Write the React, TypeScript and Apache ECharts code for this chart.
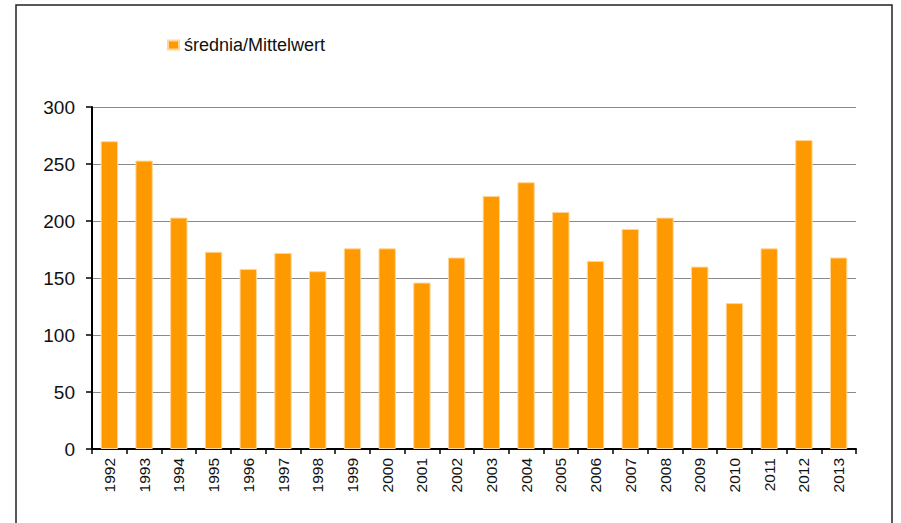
import React, { useEffect, useRef } from "react";
import * as echarts from "echarts";

const years = ["1992","1993","1994","1995","1996","1997","1998","1999","2000","2001","2002","2003","2004","2005","2006","2007","2008","2009","2010","2011","2012","2013"];
const values = [270, 253, 203, 173, 158, 172, 156, 176, 176, 146, 168, 222, 234, 208, 165, 193, 203, 160, 128, 176, 271, 168];
const seriesName = "średnia/Mittelwert";

export default function App() {
  const ref = useRef<HTMLDivElement>(null);
  useEffect(() => {
    if (!ref.current) return;
    const chart = echarts.init(ref.current, null, { renderer: "svg" });
    chart.setOption({
      animation: false,
      backgroundColor: "#ffffff",
      textStyle: { fontFamily: "Liberation Sans, Arial, sans-serif" },
      graphic: [
        {
          type: "rect",
          shape: { x: 16, y: 5, width: 876, height: 540 },
          style: { fill: "none", stroke: "#222", lineWidth: 1.5 },
          silent: true,
        },
      ],
      legend: {
        show: true,
        left: 162,
        top: 31,
        itemWidth: 11,
        itemHeight: 9,
        itemGap: 4,
        textStyle: { fontSize: 18, color: "#111", fontFamily: "Liberation Sans, Arial, sans-serif" },
        data: [{ name: seriesName, icon: "rect" }],
      },
      grid: { left: 92, right: 45, top: 107, bottom: 74, containLabel: false },
      xAxis: {
        type: "category",
        data: years,
        axisLine: { show: true, lineStyle: { color: "#000", width: 2 } },
        axisTick: { show: true, length: 5, lineStyle: { color: "#000", width: 1.5 } },
        axisLabel: { rotate: 90, fontSize: 15.5, color: "#111", margin: 9, interval: 0 },
      },
      yAxis: {
        type: "value",
        min: 0,
        max: 300,
        interval: 50,
        axisLine: { show: true, lineStyle: { color: "#000", width: 2 } },
        axisTick: { show: true, length: 6, lineStyle: { color: "#000", width: 1.5 } },
        axisLabel: { fontSize: 19, color: "#111", margin: 17 },
        splitLine: { show: true, lineStyle: { color: "#8a8a8a", width: 1 } },
      },
      series: [
        {
          name: seriesName,
          type: "bar",
          data: values,
          barWidth: "50%",
          itemStyle: { color: "#FF9900", borderColor: "#FFD699", borderWidth: 1 },
        },
      ],
    });
    return () => chart.dispose();
  }, []);
  return (
    <div
      ref={ref}
      style={{ position: "fixed", left: 0, top: 0, width: 901, height: 523, background: "#fff" }}
    />
  );
}
